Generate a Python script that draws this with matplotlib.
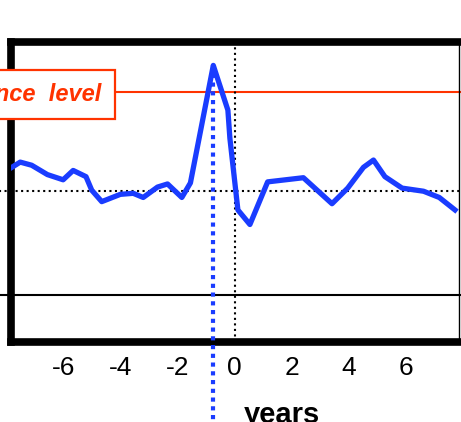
import matplotlib
matplotlib.use("Agg")
import matplotlib.pyplot as plt

plt.rcParams['font.family'] = ['Liberation Sans', 'DejaVu Sans']

# time relative to event (years) and index values
years = [-7.85, -7.5, -7.1, -6.55, -6.0, -5.65, -5.2, -5.0, -4.65, -4.0, -3.55,
         -3.2, -2.7, -2.35, -1.85, -1.55, -0.75, -0.24, -0.17, 0.11, 0.53, 1.15,
         2.4, 3.4, 3.95, 4.5, 4.85, 5.25, 5.85, 6.6, 7.15, 7.7]
values = [1.22, 1.28, 1.25, 1.16, 1.11, 1.20, 1.14, 1.01, 0.90, 0.97, 0.98,
          0.94, 1.04, 1.07, 0.94, 1.08, 2.21, 1.78, 1.51, 0.82, 0.68, 1.09,
          1.13, 0.88, 1.03, 1.23, 1.30, 1.14, 1.03, 1.00, 0.94, 0.82]
sig_level = 1.95
mean_level = 1.0
peak_year = -0.75
xticks = [-6, -4, -2, 0, 2, 4, 6]

W, H = 461, 422
fig = plt.figure(figsize=(W / 100, H / 100), dpi=100)
ax = fig.add_axes([10.5 / W, 1 - 342 / H, (459 - 10.5) / W, (342 - 41.5) / H])
ax.set_xlim(-7.84, 7.84)
ax.set_ylim(-0.45, 2.44)

red = "#ff3300"
blue = "#1a3cff"

# reference lines (extend past the left spine)
ax.plot([-9, 9], [sig_level, sig_level], color=red, lw=1.5, clip_on=False, zorder=2)
ax.plot([-9, 9], [mean_level, mean_level], color="black", lw=1.5, ls=":", clip_on=False, zorder=2)
ax.plot([-9, 9], [0, 0], color="black", lw=1.5, clip_on=False, zorder=2)
ax.axvline(0, color="black", lw=1.5, ls=":", zorder=2)

ax.plot(years, values, color=blue, lw=3.8, zorder=4)
ax.plot([peak_year, peak_year], [max(values), -1.3], color=blue, lw=3,
        dashes=(1, 1.1), dash_capstyle="butt", clip_on=False, zorder=3)

ax.text(-4.66, sig_level - 0.02, "significance  level", color=red, fontsize=17,
        fontweight="bold", style="italic", ha="right", va="center", zorder=5,
        bbox=dict(boxstyle="square,pad=0.56", fc="white", ec=red, lw=1.6),
        clip_on=False)

for side in ["left", "top", "bottom"]:
    ax.spines[side].set_linewidth(5.5)
ax.spines["right"].set_linewidth(1.0)

ax.set_yticks([])
ax.set_xticks(xticks)
ax.set_xticklabels([str(t) for t in xticks])
ax.tick_params(axis="x", length=0, pad=10, labelsize=19)
ax.set_xlabel("years", fontsize=21, fontweight="bold")
ax.xaxis.set_label_coords(0.605, -0.196)

fig.savefig("out.png", dpi=100)
